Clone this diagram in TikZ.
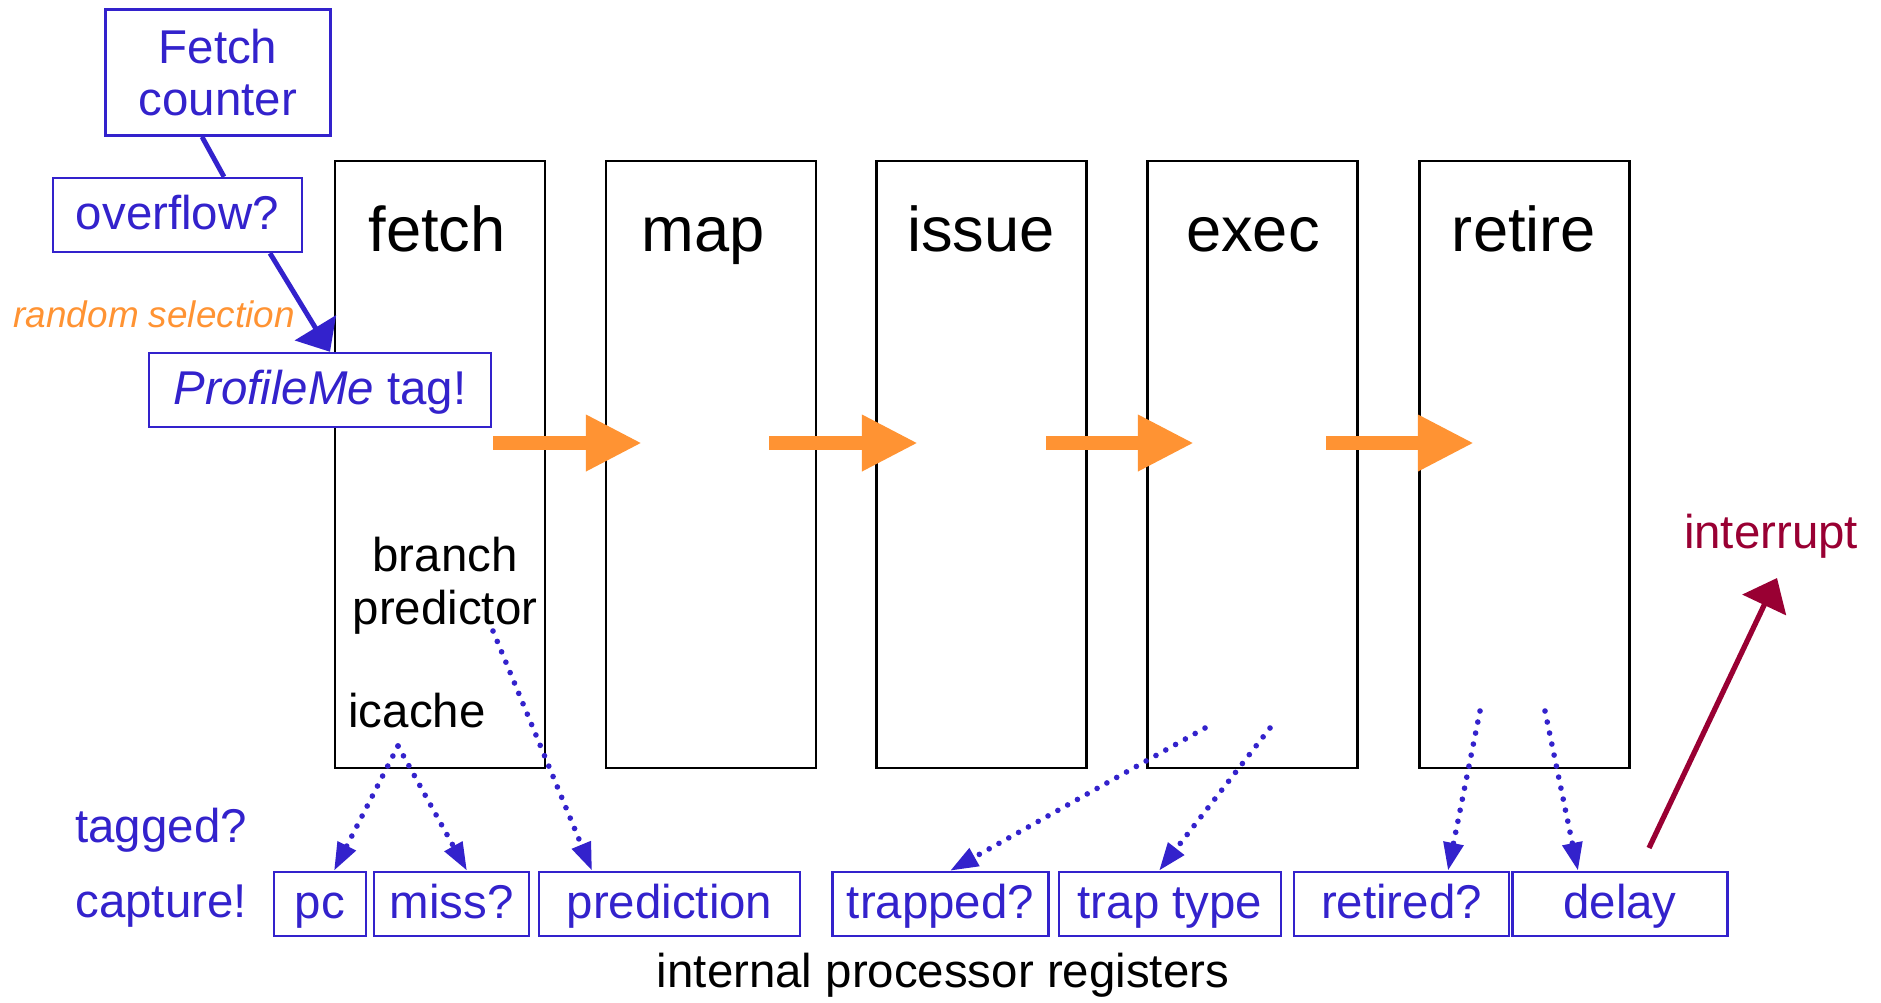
\documentclass[tikz,border=0pt]{standalone}
\usepackage{fontspec}
\setmainfont{Liberation Sans}
\usetikzlibrary{arrows.meta}

\definecolor{regblue}{RGB}{51,34,204}
\definecolor{pipeorange}{RGB}{255,147,51}
\definecolor{intred}{RGB}{153,0,51}

\tikzset{
  stagebox/.style={draw=black, line width=1.2pt, minimum width=4.2cm, minimum height=12.14cm, inner sep=0pt},
  stagetext/.style={font=\fontsize{36}{40}\selectfont, inner sep=0pt, anchor=base},
  plaintext/.style={font=\fontsize{27}{30}\selectfont, align=center, inner sep=0pt},
  bluetext/.style={plaintext, text=regblue},
  bluebox/.style={bluetext, draw=regblue, line width=1.4pt, fill=white},
  regbox/.style={bluebox, minimum height=1.28cm, text height=21.6pt, text depth=4.7pt},
  pipearrow/.style={pipeorange, line width=8pt, -{Triangle[length=32pt,width=30pt]}},
  taparrow/.style={regblue, line width=3.2pt, line cap=round, dash pattern=on 0pt off 6.4pt, -{Triangle[length=16pt,width=11pt]}},
}

\begin{document}
\begin{tikzpicture}[x=0.02cm, y=-0.02cm]
\useasboundingbox (0,0) rectangle (1881,1002);

% we draw the pipeline stages
\node (fetch) [stagebox] at (440,464.5) {};
\node (map) [stagebox] at (711,464.5) {};
\node (issue) [stagebox] at (981.5,464.5) {};
\node (exec) [stagebox] at (1252.5,464.5) {};
\node (retire) [stagebox] at (1524.5,464.5) {};

% stage names
\node (fetchname) [stagetext] at (437,251) {fetch};
\node (mapname) [stagetext] at (703,251) {map};
\node (issuename) [stagetext] at (981,251) {issue};
\node (execname) [stagetext] at (1253,251) {exec};
\node (retirename) [stagetext] at (1524,251) {retire};

% parts of the fetch stage
\node (branch) [plaintext] at (445,586) {branch\\predictor};
\node (icache) [plaintext, anchor=base] at (417,727) {icache};

% the flow between stages
\coordinate (fetchout) at (493,443);
\coordinate (mapin) at (642,443);
\coordinate (mapout) at (769,443);
\coordinate (issuein) at (918,443);
\coordinate (issueout) at (1046,443);
\coordinate (execin) at (1194,443);
\coordinate (execout) at (1326,443);
\coordinate (retirein) at (1474,443);
\draw[pipearrow] (fetchout) -- (mapin);
\draw[pipearrow] (mapout) -- (issuein);
\draw[pipearrow] (issueout) -- (execin);
\draw[pipearrow] (execout) -- (retirein);

% the counter that picks an instruction
\node (counter) [bluebox, minimum width=4.5cm, minimum height=2.52cm] at (218,72.6) {Fetch\\counter};
\node (overflow) [regbox, minimum width=4.98cm, minimum height=1.48cm] at (177.5,215) {overflow?};
\node (tag) [regbox, minimum width=6.84cm, minimum height=1.48cm] at (320,390) {\textit{ProfileMe} tag!};
\node (randsel) [anchor=base east, inner sep=0pt, text=pipeorange, font=\fontsize{21}{24}\selectfont\itshape] at (295,327) {random selection};

\draw[regblue, line width=2.8pt] ([xshift=-0.32cm]counter.south) -- ([xshift=0.93cm]overflow.north);
\draw[regblue, line width=2.8pt, -{Triangle[length=16pt,width=27pt]}] ([xshift=1.85cm]overflow.south) -- ([xshift=0.2cm]tag.north);

% the registers
\node (tagged) [bluetext, anchor=base west] at (75,842) {tagged?};
\node (capture) [bluetext, anchor=base west] at (75,917) {capture!};
\node (pc) [regbox, minimum width=1.84cm] at (320,904) {pc};
\node (miss) [regbox, minimum width=3.1cm] at (451.5,904) {miss?};
\node (pred) [regbox, minimum width=5.22cm] at (669.5,904) {prediction};
\node (trapped) [regbox, minimum width=4.32cm] at (940.5,904) {trapped?};
\node (traptype) [regbox, minimum width=4.44cm] at (1170,904) {trap type};
\node (retired) [regbox, minimum width=4.3cm] at (1401.5,904) {retired?};
\node (delay) [regbox, minimum width=4.3cm] at (1620,904) {delay};
\node (registers) [plaintext, anchor=base] at (943,987) {internal processor registers};

% where the registers are read from
\coordinate (icachetap) at (398,746);
\coordinate (predtap) at (493,631);
\coordinate (traptapA) at (1205,728);
\coordinate (traptapB) at (1270,728);
\coordinate (rettapA) at (1480,711);
\coordinate (rettapB) at (1545,711);
\draw[taparrow] (icachetap) -- ([xshift=0.28cm]pc.north);
\draw[taparrow] (icachetap) -- ([xshift=0.31cm]miss.north);
\draw[taparrow] (predtap) -- ([xshift=-1.55cm]pred.north);
\draw[taparrow] (traptapA) -- ([xshift=0.19cm]trapped.north);
\draw[taparrow] (traptapB) -- ([xshift=-0.22cm]traptype.north);
\draw[taparrow] (rettapA) -- ([xshift=0.93cm]retired.north);
\draw[taparrow] (rettapB) -- ([xshift=-0.84cm]delay.north);

% interrupt
\node (intlabel) [plaintext, anchor=base, text=intred] at (1771,548) {interrupt};
\coordinate (intfrom) at (1649,848);
\coordinate (intto) at (1777,578);
\draw[intred, line width=3pt, -{Triangle[length=17pt,width=27pt]}] (intfrom) -- (intto);

\end{tikzpicture}
\end{document}
